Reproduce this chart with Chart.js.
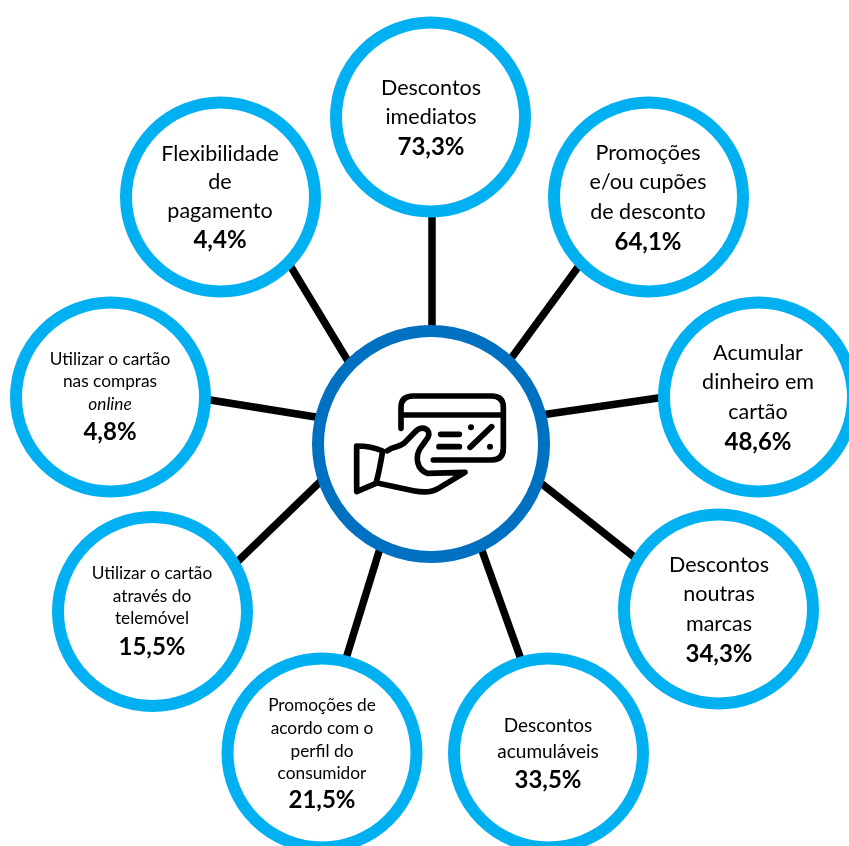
<!DOCTYPE html>
<html lang="pt">
<head>
<meta charset="utf-8">
<title>Vantagens dos cartões</title>
<script src="https://cdn.jsdelivr.net/npm/chart.js@4"></script>
<style>
    html, body { margin: 0; padding: 0; background: #fff; }
    canvas { display: block; }
</style>
</head>
<body>
<canvas id="myChart" width="849" height="846"></canvas>
<script>
// Dados
var categorias = [
    ['Descontos', 'imediatos'],
    ['Promoções', 'e/ou cupões', 'de desconto'],
    ['Acumular', 'dinheiro em', 'cartão'],
    ['Descontos', 'noutras', 'marcas'],
    ['Descontos', 'acumuláveis'],
    ['Promoções de', 'acordo com o', 'perfil do', 'consumidor'],
    ['Utilizar o cartão', 'através do', 'telemóvel'],
    ['Utilizar o cartão', 'nas compras', 'online'],
    ['Flexibilidade', 'de', 'pagamento']
];
var valores = [73.3, 64.1, 48.6, 34.3, 33.5, 21.5, 15.5, 4.8, 4.4];
var linhasItalico = ['online'];

// Posição dos círculos, em unidades dos eixos
var circuloX = [430.5, 648.5, 758.5, 718.5, 548.5, 322, 152.5, 110.5, 220.5];
var circuloY = [117, 197, 397, 609, 753, 753, 611.5, 397, 197];
var centroX = [431];
var centroY = [444];

// Raios entre o círculo central e os outros: [x1, y1, x2, y2]
var raios = [
    [432, 210, 432, 332],
    [581, 263, 507, 364],
    [665, 397, 541, 415],
    [638, 560, 537, 480],
    [523, 665, 480, 545],
    [344, 665, 381, 545],
    [234, 565, 324, 478],
    [204, 399, 322, 418],
    [288, 262, 351, 366]
];

// Texto de cada círculo
var textoX = [431, 648, 758, 719, 548, 322, 152, 110, 220];
var textoY = [
    [95, 124, 155],
    [160, 189, 219, 250],
    [360, 389, 419, 450],
    [572, 601, 631, 662],
    [732, 758, 788],
    [711, 734, 757, 779, 808],
    [579, 602, 624, 655],
    [365, 387, 410, 440],
    [161, 189, 218, 248]
];
var tamanhoTexto = [21.5, 21.5, 21.5, 21.5, 19, 17.3, 17.3, 17.3, 21.5];
var tamanhoValor = 24;

var AZUL_CLARO = '#00B0F0';
var AZUL = '#0070C0';

function formatarValor(v) {
    return v.toFixed(1).replace('.', ',') + '%';
}

// Ícone da mão com o cartão, desenhado à volta do centro
function desenharIcone(ctx, x, y) {
    ctx.save();
    ctx.translate(x, y);
    ctx.scale(1 / 3, 1 / 3);
    ctx.translate(-393, -372);
    ctx.strokeStyle = '#000';
    ctx.fillStyle = '#000';
    ctx.lineWidth = 17;
    ctx.lineCap = 'round';
    ctx.lineJoin = 'round';

    var cartao = new Path2D('M303 325 V262 Q303 228 340 228 H575 Q610 228 610 262 V385 Q610 420 575 420 H400 M303 285 H610');
    var tracos = new Path2D('M422 343 H478 M417 380 H478 M510 382 L575 320');
    var punho = new Path2D('M170 378 C200 378 228 384 248 393 C242 430 236 460 228 490 L170 515 Z');
    var mao = new Path2D('M262 392 C280 378 297 382 312 370 L348 333 C365 315 396 328 384 352 L360 386 C345 412 350 448 382 460 L495 457 L415 505 C392 520 360 516 340 512 L235 490');
    ctx.stroke(cartao);
    ctx.stroke(tracos);
    ctx.stroke(punho);
    ctx.stroke(mao);

    ctx.beginPath();
    ctx.arc(513, 322, 9, 0, Math.PI * 2);
    ctx.fill();
    ctx.beginPath();
    ctx.arc(570, 380, 9, 0, Math.PI * 2);
    ctx.fill();
    ctx.restore();
}

var textos = {
    id: 'textos',
    afterDatasetsDraw: function (chart) {
        var ctx = chart.ctx;
        var sx = chart.scales.x;
        var sy = chart.scales.y;

        ctx.save();
        ctx.textAlign = 'center';
        ctx.textBaseline = 'alphabetic';
        ctx.fillStyle = '#000';

        categorias.forEach(function (linhas, i) {
            var px = sx.getPixelForValue(textoX[i]);
            linhas.forEach(function (linha, j) {
                var estilo = linhasItalico.indexOf(linha) >= 0 ? 'italic ' : '';
                ctx.font = estilo + tamanhoTexto[i] + 'px Lato';
                ctx.fillText(linha, px, sy.getPixelForValue(textoY[i][j]));
            });
            ctx.font = 'bold ' + tamanhoValor + 'px Lato';
            ctx.fillText(formatarValor(valores[i]), px, sy.getPixelForValue(textoY[i][linhas.length]));
        });
        ctx.restore();

        desenharIcone(ctx, sx.getPixelForValue(centroX[0]), sy.getPixelForValue(centroY[0]));
    }
};

// Raios por baixo, círculos por cima
var datasets = raios.map(function (r) {
    return {
        data: [{ x: r[0], y: r[1] }, { x: r[2], y: r[3] }],
        showLine: true,
        borderColor: '#000',
        borderWidth: 7.5,
        pointRadius: 0,
        order: 3
    };
});

datasets.push({
    data: circuloX.map(function (x, i) { return { x: x, y: circuloY[i] }; }),
    pointRadius: 94.5,
    pointBorderWidth: 12,
    pointBackgroundColor: '#fff',
    pointBorderColor: AZUL_CLARO,
    order: 2
});

datasets.push({
    data: [{ x: centroX[0], y: centroY[0] }],
    pointRadius: 113,
    pointBorderWidth: 12,
    pointBackgroundColor: '#fff',
    pointBorderColor: AZUL,
    order: 1
});

var config = {
    type: 'scatter',
    data: { datasets: datasets },
    plugins: [textos],
    options: {
        responsive: false,
        animation: false,
        layout: { padding: 0, autoPadding: false },
        plugins: {
            legend: { display: false },
            tooltip: { enabled: false }
        },
        scales: {
            x: { type: 'linear', min: 0, max: 849, display: false },
            y: { type: 'linear', min: 0, max: 846, reverse: true, display: false }
        }
    }
};

var myChart = new Chart(document.getElementById('myChart'), config);
</script>
</body>
</html>
